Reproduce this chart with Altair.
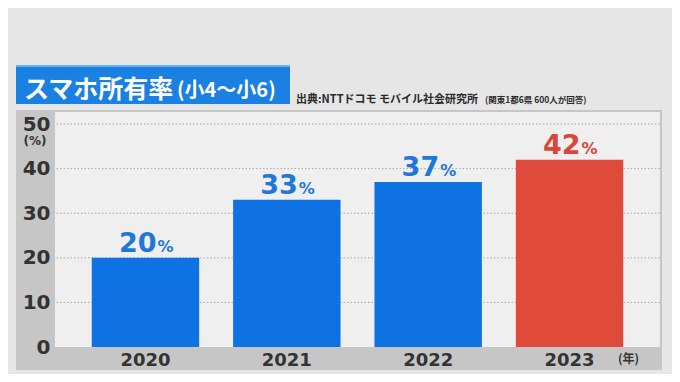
import altair as alt
import pandas as pd

years = ["2020", "2021", "2022", "2023"]
values = [20, 33, 37, 42]
bar_colors = ["#0f72e3", "#0f72e3", "#0f72e3", "#e04a3a"]
label_colors = ["#1f78d8", "#1f78d8", "#1f78d8", "#d9463a"]
grid_ticks = [10, 20, 30, 40, 50]
y_ticks = [0, 10, 20, 30, 40, 50]

title_main = "スマホ所有率"
title_sub = "(小4～小6)"
source_main = "出典:NTTドコモ モバイル社会研究所"
source_sub = "(関東1都6県 600人が回答)"

df = pd.DataFrame({"year": years, "value": values, "bar": bar_colors, "lab": label_colors})
df["num"] = df["value"].astype(str)
df["pct"] = "%"
grid_df = pd.DataFrame({"value": grid_ticks})

FONT = "DejaVu Sans"
JP = "Noto Sans CJK JP"
W, H = 605, 235
YMAX = 52.7

one = alt.Data(values=[{}])

x_axis = alt.Axis(title=None, labelAngle=0, domain=False, ticks=False,
                  labelFont=FONT, labelFontSize=18, labelFontWeight="bold",
                  labelColor="#333333", labelPadding=4, zindex=2)
y_axis = alt.Axis(title=None, values=y_ticks, domain=False, ticks=False, grid=False,
                  labelFont=FONT, labelFontSize=20, labelFontWeight="bold",
                  labelColor="#333333", labelPadding=5, zindex=2)
x_scale = alt.Scale(paddingInner=0.24, paddingOuter=0.26)
y_scale = alt.Scale(domain=[0, YMAX], nice=False, zero=True)

x_enc = alt.X("year:N", sort=years, scale=x_scale, axis=x_axis)
y_enc = alt.Y("value:Q", scale=y_scale, axis=y_axis)

panel = alt.Chart(one).mark_rect(color="#c6c6c6").encode(
    x=alt.value(-39), x2=alt.value(607), y=alt.value(-2), y2=alt.value(258))
plot_bg = alt.Chart(one).mark_rect(color="#efefef").encode(
    x=alt.value(0), x2=alt.value(W), y=alt.value(0), y2=alt.value(H))

grid = alt.Chart(grid_df).mark_rule(color="#a8a8a8", strokeDash=[1.5, 2], strokeWidth=1).encode(
    y=y_enc)

bars = alt.Chart(df).mark_bar().encode(
    x=x_enc, y=y_enc, color=alt.Color("bar:N", scale=None))

nums = alt.Chart(df).mark_text(font=FONT, fontSize=27, fontWeight="bold", align="right",
                               baseline="alphabetic", dx=11, dy=-6).encode(
    x=x_enc, y=y_enc, text="num:N", color=alt.Color("lab:N", scale=None))
pcts = alt.Chart(df).mark_text(font=FONT, fontSize=16, fontWeight="bold", align="left",
                               baseline="alphabetic", dx=12, dy=-6).encode(
    x=x_enc, y=y_enc, text="pct:N", color=alt.Color("lab:N", scale=None))

pct_unit = alt.Chart(one).mark_text(font=FONT, fontSize=12, fontWeight="bold", color="#333333",
                                    align="center", baseline="middle").encode(
    x=alt.value(-20), y=alt.value(29), text=alt.value("(%)"))
year_unit = alt.Chart(one).mark_text(font=JP, fontSize=12, fontWeight="bold", color="#333333",
                                     align="left", baseline="middle").encode(
    x=alt.value(563), y=alt.value(247), text=alt.value("(年)"))

title_line = alt.Chart(one).mark_rect(color="#63b4f0").encode(
    x=alt.value(-39), x2=alt.value(235), y=alt.value(-47), y2=alt.value(-45))
title_box = alt.Chart(one).mark_rect(color="#1a80e2").encode(
    x=alt.value(-39), x2=alt.value(235), y=alt.value(-45), y2=alt.value(-8))
t_main = alt.Chart(one).mark_text(font=JP, fontSize=25, fontWeight="bold", color="white",
                                  align="left", baseline="alphabetic").encode(
    x=alt.value(-31), y=alt.value(-14), text=alt.value(title_main))
t_sub = alt.Chart(one).mark_text(font=JP, fontSize=20, fontWeight="bold", color="white",
                                 align="left", baseline="alphabetic").encode(
    x=alt.value(122), y=alt.value(-15), text=alt.value(title_sub))
s_main = alt.Chart(one).mark_text(font=JP, fontSize=11, fontWeight="bold", color="#2a2a2a",
                                  align="left", baseline="alphabetic").encode(
    x=alt.value(241), y=alt.value(-9), text=alt.value(source_main))
s_sub = alt.Chart(one).mark_text(font=JP, fontSize=8.5, fontWeight="bold", color="#2a2a2a",
                                 align="left", baseline="alphabetic").encode(
    x=alt.value(430), y=alt.value(-9), text=alt.value(source_sub))

chart = alt.layer(
    panel, plot_bg, grid, bars, nums, pcts, pct_unit, year_unit,
    title_line, title_box, t_main, t_sub, s_main, s_sub
).properties(
    width=W, height=H,
    autosize=alt.AutoSizeParams(type="none"),
    padding={"left": 47, "top": 104, "right": 12, "bottom": 27},
    background="#e6e6e6",
).configure_view(stroke=None)

chart.save("out.html", embed_options={"renderer": "svg", "actions": False})
